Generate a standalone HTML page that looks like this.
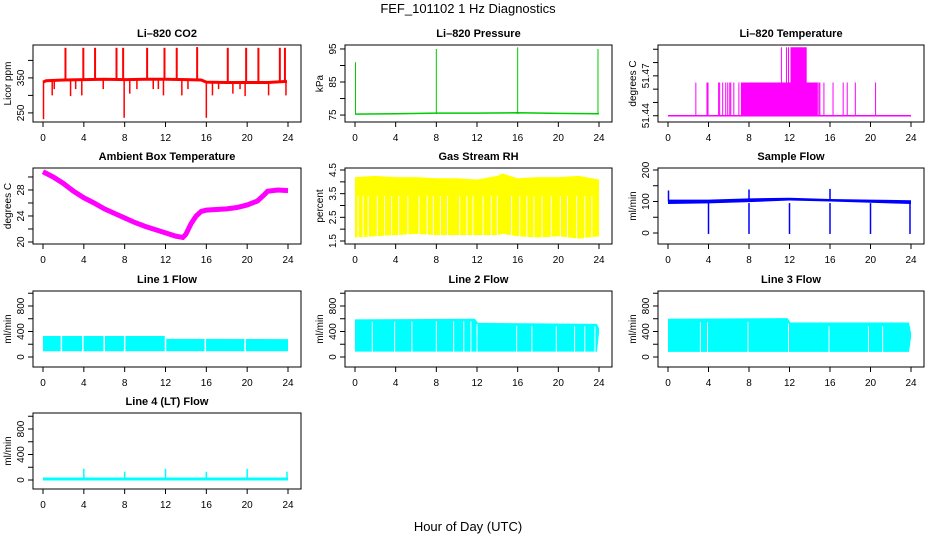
<!DOCTYPE html>
<html><head><meta charset="utf-8">
<style>
body{margin:0;background:#fff;}
svg{display:block;font-family:"Liberation Sans",sans-serif;}
.t{font-weight:bold;font-size:11px;text-anchor:middle;}
.tl{font-size:10px;text-anchor:middle;}
</style></head>
<body>
<svg id="c" width="936" height="540" xmlns="http://www.w3.org/2000/svg">
<rect width="936" height="540" fill="#fff"/>
<text x="468" y="13" font-size="13" text-anchor="middle">FEF_101102  1 Hz Diagnostics</text>
<text x="468" y="531" font-size="13" text-anchor="middle">Hour of Day (UTC)</text>
</svg>
<script>
// ---- data ----
const xTicks=[0,4,8,12,16,20,24];
const co2Hours=[0,0.3,2,4,6,8,10,12,14,15.5,16,18,20,22,23.9];
const co2Base=[338,342,344,345,346,345,346,346,345,344,338,337,337,337,340];
const co2SpikeT=[2.2,3.95,5.1,7.2,7.85,10.2,11.9,13.1,15.1,18.1,19.9,21.1,23.2,23.7];
const co2SpikeV=[436,436,436,436,436,436,436,436,438,436,436,436,436,436];
const co2DipT=[0.05,0.9,1.1,2.7,3.2,3.8,5.9,7.95,8.5,9.2,10.8,11.3,11.8,13.6,14.2,16.0,16.6,17.2,18.6,19.3,19.8,22.1,23.8];
const co2DipV=[232,300,318,298,318,300,318,236,305,318,318,318,300,300,318,236,300,318,305,318,298,300,300];
const presHours=[0,4,8,12,16,20,24];
const presBase=[75.3,75.4,75.6,75.6,75.7,75.5,75.4];
const presSpikeT=[0.05,8,16,23.9];
const presSpikeV=[91,95,95.5,95];
const tempLow=51.44, tempMid=51.465, tempHigh=51.4915;
const tempMidLines=[2.75,3.85,3.95,5.0,5.1,5.4,5.7,5.9,6.1,6.2,6.5,7.0,14.9,15.0,15.4,16.3,17.3,17.7,18.5,20.5];
const tempMidBlock=[7.2,14.8];
const tempHighLines=[11.2,11.7,11.9];
const tempHighBlock=[12.1,13.7];
const ambHours=[0,1,2,3,4,5,6,7,8,9,10,11,12,13,13.7,14,14.5,15,15.5,16,18,19,20,21,21.7,22,23,24];
const ambTemp=[30.8,30,29,27.8,26.8,26,25.1,24.4,23.7,23,22.4,21.9,21.4,20.9,20.7,21.2,22.8,24,24.7,24.9,25.1,25.3,25.7,26.3,27.3,27.8,28,27.9];
const rhHours=[0,2,4,6,8,10,12,14,14.5,16,18,20,22,24];
const rhTop=[4.2,4.25,4.2,4.2,4.15,4.15,4.1,4.25,4.35,4.15,4.2,4.2,4.25,4.1];
const rhBottom=[1.65,1.7,1.75,1.8,1.75,1.75,1.75,1.75,1.8,1.7,1.65,1.7,1.6,1.7];
const rhGaps=[0.3,0.8,1.3,2.2,2.9,3.6,4.3,5.2,6.3,7.1,7.7,8.4,9.1,10.3,11.0,11.6,12.6,13.4,14.0,15.4,16.2,16.9,17.6,18.4,19.3,20.2,20.9,21.8,22.6,23.3];
const flowHours=[0,4,8,12,16,20,24];
const flowLow=[92,94,98,103,100,96,92];
const flowHigh=[106,106,110,112,108,106,104];
const flowDipT=[4,8,12,16,20,23.9];
const flowSpikeT=[0.05,8,16];
const flowSpikeV=[135,138,140];
const l1Hours=[0,12,12.1,24];
const l1Top=[330,330,285,280];
const l1Bottom=[90,90,90,90];
const l1Gaps=[1.8,3.9,6,8,12,15.9,19.8];
const l2Hours=[0,11.8,12.1,23.8,24];
const l2Top=[590,600,535,520,450];
const l2Bottom=[85,85,85,85,380];
const l2Gaps=[1.7,3.9,5.6,8,9.7,10.7,11.4,12,15.9,17.4,19.8,21.6,22.6,23.6];
const l3Hours=[0,11.8,12.1,23.8,24];
const l3Top=[600,610,540,540,380];
const l3Bottom=[80,80,80,80,300];
const l3Gaps=[3.2,3.9,7.9,11.9,15.9,19.8,21.2];
const l4Hours=[0,24];
const l4Base=[15,15];
const l4SpikeT=[4,8,12,16,20,23.9];
const l4SpikeV=[175,130,175,130,175,130];

// ---- layout ----
const NS='http://www.w3.org/2000/svg';
const svg=document.getElementById('c');
const cols=[[33,301],[345,612],[658,924]];
const rows=[[45,122],[168,244],[291,367],[413,489]];
function el(tag,a,parent){const e=document.createElementNS(NS,tag);for(const k in a)e.setAttribute(k,a[k]);(parent||svg).appendChild(e);return e;}

function panel(name,col,row,title,ylab,dom,ticks,labels){
  const [L,R]=cols[col],[T,B]=rows[row];
  const g=el('g',{});
  
  
  const X=h=>L+10+h*(R-13-(L+10))/24;
  const Y=v=>B-(v-dom[0])*(B-T)/(dom[1]-dom[0]);
  const t=el('text',{x:(L+R)/2,y:T-8,class:'t'},g);t.textContent=title;
  
  
  const yl=el('text',{x:0,y:0,class:'tl',transform:`translate(${L-22},${(T+B)/2}) rotate(-90)`},g);yl.textContent=ylab;
  
  
  const plot=el('g',{},g);
  el('rect',{x:L,y:T,width:R-L,height:B-T,fill:'none',stroke:'#000','stroke-width':1},g);
  xTicks.forEach(h=>{el('line',{x1:X(h),x2:X(h),y1:B,y2:B+5,stroke:'#000'},g);
    const tx=el('text',{x:X(h),y:B+19,class:'tl'},g);tx.textContent=h;
    
    });
  ticks.forEach(v=>{el('line',{x1:L-5,x2:L,y1:Y(v),y2:Y(v),stroke:'#000'},g);});
  labels.forEach(v=>{const ty=el('text',{x:0,y:0,class:'tl',transform:`translate(${L-9},${Y(v)}) rotate(-90)`},g);ty.textContent=v;
    
    });
  return {X,Y,g:plot};
}
function poly(p,hs,vs,color,w,name){
  const e=el('polyline',{points:hs.map((h,i)=>p.X(h)+','+p.Y(vs[i])).join(' '),fill:'none',stroke:color,'stroke-width':w},p.g);
  
  
}
function band(p,hs,top,bot,color,name){
  const pts=hs.map((h,i)=>p.X(h)+','+p.Y(top[i])).concat(hs.slice().reverse().map((h,j)=>{const i=hs.length-1-j;return p.X(h)+','+p.Y(bot[i]);}));
  const e=el('polygon',{points:pts.join(' '),fill:color},p.g);
  
  
}
function vline(p,h,v1,v2,color,w,name){
  const e=el('line',{x1:p.X(h),x2:p.X(h),y1:p.Y(v1),y2:p.Y(v2),stroke:color,'stroke-width':w},p.g);
  
  
}
function interp(hs,vs,h){for(let i=1;i<hs.length;i++){if(h<=hs[i]){const f=(h-hs[i-1])/(hs[i]-hs[i-1]);return vs[i-1]+f*(vs[i]-vs[i-1]);}}return vs[vs.length-1];}

// CO2
let p=panel('co2',0,0,'Li\u2013820 CO2','Licor ppm',[224,444],[250,300,350,400],[250,350]);
poly(p,co2Hours,co2Base,'#f00',3,'co2-line');
co2SpikeT.forEach((h,i)=>vline(p,h,interp(co2Hours,co2Base,h),co2SpikeV[i],'#f00',2,'co2-spike'));
co2DipT.forEach((h,i)=>vline(p,h,interp(co2Hours,co2Base,h),co2DipV[i],'#f00',1.5,'co2-dip'));
// Pressure
p=panel('pressure',1,0,'Li\u2013820 Pressure','kPa',[72.9,96.2],[75,80,85,90,95],[75,85,95]);
poly(p,presHours,presBase,'#0c0',1.5,'pressure-line');
presSpikeT.forEach((h,i)=>vline(p,h,75.3,presSpikeV[i],'#0c0',1,'pressure-spike'));
// Li temp
p=panel('li-temp',2,0,'Li\u2013820 Temperature','degrees C',[51.4353,51.4932],[51.44,51.45,51.46,51.47,51.48,51.49],[51.44,51.47]);
poly(p,[0,24],[tempLow,tempLow],'#f0f',1.5,'li-temp-line');
band(p,tempMidBlock,[tempMid,tempMid],[tempLow,tempLow],'#f0f','li-temp-mid-block');
band(p,tempHighBlock,[tempHigh,tempHigh],[tempLow,tempLow],'#f0f','li-temp-high-block');
tempMidLines.forEach(h=>vline(p,h,tempLow,tempMid,'#f0f',1,'li-temp-step'));
tempHighLines.forEach(h=>vline(p,h,tempLow,tempHigh,'#f0f',1,'li-temp-step'));
// Ambient
p=panel('ambient-temp',0,1,'Ambient Box Temperature','degrees C',[19.69,31.38],[20,22,24,26,28,30],[20,24,28]);
poly(p,ambHours,ambTemp,'#f0f',5,'ambient-temp-line');
// RH
p=panel('rh',1,1,'Gas Stream RH','percent',[1.373,4.585],[1.5,2,2.5,3,3.5,4,4.5],[1.5,2.5,3.5,4.5]);
band(p,rhHours,rhTop,rhBottom,'#ff0','rh-band');
rhGaps.forEach(h=>vline(p,h,1.5,3.4,'#fff',1,'rh-gap'));
// Sample flow
p=panel('sample-flow',2,1,'Sample Flow','ml/min',[-34.9,206.3],[0,50,100,150,200],[0,100,200]);
band(p,flowHours,flowHigh,flowLow,'#00f','sample-flow-band');
flowDipT.forEach(h=>vline(p,h,95,-3,'#00f',1.5,'sample-flow-dip'));
flowSpikeT.forEach((h,i)=>vline(p,h,100,flowSpikeV[i],'#00f',1.5,'sample-flow-spike'));
// Line flows
const lt=[0,200,400,600,800,1000],ll=[0,400,800];
p=panel('line1-flow',0,2,'Line 1 Flow','ml/min',[-157,1035],lt,ll);
band(p,l1Hours,l1Top,l1Bottom,'#0ff','line1-band');
l1Gaps.forEach(h=>vline(p,h,90,330,'#fff',1.5,'line1-gap'));
p=panel('line2-flow',1,2,'Line 2 Flow','ml/min',[-157,1035],lt,ll);
band(p,l2Hours,l2Top,l2Bottom,'#0ff','line2-band');
l2Gaps.forEach(h=>vline(p,h,85,interp(l2Hours,l2Top,h)-40,'#fff',1,'line2-gap'));
p=panel('line3-flow',2,2,'Line 3 Flow','ml/min',[-157,1035],lt,ll);
band(p,l3Hours,l3Top,l3Bottom,'#0ff','line3-band');
l3Gaps.forEach(h=>vline(p,h,80,interp(l3Hours,l3Top,h)-60,'#fff',1,'line3-gap'));
p=panel('line4-flow',0,3,'Line 4 (LT) Flow','ml/min',[-141,1051],lt,ll);
poly(p,l4Hours,l4Base,'#0ff',3,'line4-line');
l4SpikeT.forEach((h,i)=>vline(p,h,15,l4SpikeV[i],'#0ff',1.5,'line4-spike'));
</script>
</body></html>
